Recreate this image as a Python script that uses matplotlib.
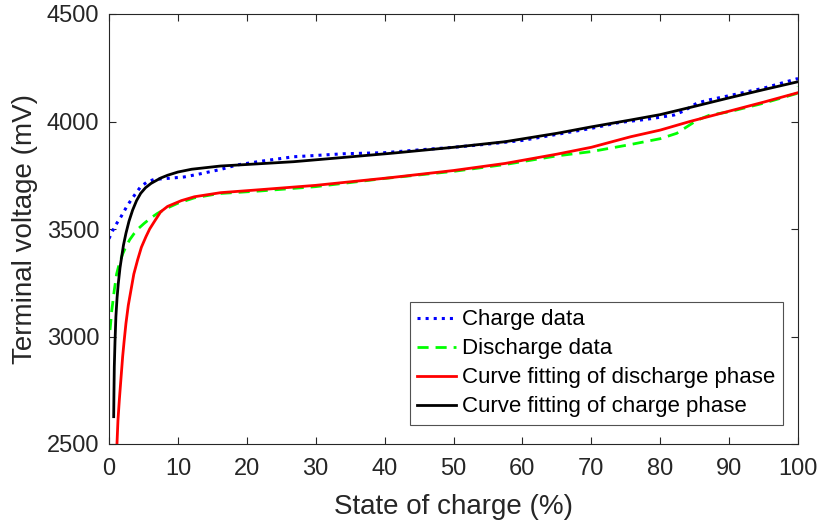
import matplotlib
matplotlib.use("Agg")
import matplotlib.pyplot as plt

plt.rcParams["font.family"] = ["Liberation Sans", "DejaVu Sans"]

# Charge data (blue dotted)
charge_soc = [0, 0.5, 1, 1.74, 2.5, 3.2, 4.6, 5.5, 6.57, 8, 10.9, 13, 16.2, 18.6, 22, 26.8,
              30, 34.1, 40, 45, 50, 55, 60, 65, 70, 74, 78, 82, 83.5, 85.3, 87, 90, 95, 100]
charge_mv = [3455, 3490, 3520, 3557, 3600, 3635, 3697, 3718, 3731, 3734, 3742, 3755, 3777,
             3798, 3815, 3836, 3842, 3850, 3855, 3868, 3880, 3895, 3912, 3940, 3968, 3995,
             4010, 4030, 4050, 4085, 4100, 4120, 4155, 4200]

# Discharge data (green dashed)
discharge_soc = [0.15, 0.4, 0.77, 1.1, 1.5, 2.0, 2.46, 3.0, 3.67, 4.3, 5.1, 6.1, 7.05, 8.5,
                 10, 12.4, 16, 22, 30, 40, 50, 57.5, 65, 70, 75.7, 80, 82.4, 85.3, 87.2,
                 90, 95, 99.8, 100, 100]
discharge_mv = [3030, 3120, 3216, 3290, 3340, 3385, 3418, 3450, 3480, 3503, 3526, 3552,
                3573, 3598, 3620, 3645, 3665, 3677, 3697, 3735, 3768, 3800, 3840, 3860,
                3893, 3920, 3945, 4005, 4030, 4045, 4085, 4130, 4140, 4165]

# Curve fitting of discharge phase (red)
fit_dis_soc = [1.16, 1.3, 1.5, 1.75, 1.98, 2.2, 2.46, 2.8, 3.19, 3.6, 4.15, 4.7, 5.36, 5.9,
               6.57, 7.5, 8.5, 10.5, 12.4, 16.2, 22, 30, 40.9, 50, 57.5, 65, 70, 75.7, 80,
               84.3, 90, 95, 100]
fit_dis_mv = [2503, 2610, 2705, 2810, 2906, 2980, 3061, 3145, 3216, 3290, 3356, 3415,
              3464, 3500, 3534, 3580, 3605, 3632, 3650, 3669, 3683, 3703, 3739, 3772,
              3805, 3848, 3880, 3929, 3960, 4000, 4048, 4090, 4134]

# Curve fitting of charge phase (black)
fit_ch_soc = [0.68, 0.72, 0.77, 0.87, 1.0, 1.17, 1.35, 1.6, 1.84, 2.1, 2.46, 2.9, 3.43,
              4.0, 4.6, 5.3, 6.1, 7.5, 8.5, 10, 12, 16.2, 20, 26.8, 33, 40.9, 50, 57.5,
              65, 70, 75.7, 80, 84.8, 90, 95, 100]
fit_ch_mv = [2627, 2740, 2860, 2975, 3092, 3180, 3247, 3320, 3371, 3425, 3480, 3536,
             3588, 3632, 3666, 3692, 3712, 3737, 3750, 3765, 3778, 3793, 3800, 3813,
             3830, 3852, 3880, 3906, 3945, 3975, 4007, 4032, 4069, 4110, 4148, 4185]

fig = plt.figure(figsize=(8.22, 5.24), dpi=100)
ax = fig.add_axes([109 / 822, 80 / 524, 689 / 822, 430 / 524])

ax.plot(charge_soc, charge_mv, color="#0000ff", linestyle=":", linewidth=2.2,
        label="Charge data")
ax.plot(discharge_soc, discharge_mv, color="#00ff00", linestyle="--", linewidth=2.0,
        dashes=(4, 2.5), label="Discharge data")
ax.plot(fit_dis_soc, fit_dis_mv, color="#ff0000", linewidth=2.0,
        label="Curve fitting of discharge phase")
ax.plot(fit_ch_soc, fit_ch_mv, color="#000000", linewidth=2.0,
        label="Curve fitting of charge phase")

ax.set_xlim(0, 100)
ax.set_ylim(2500, 4500)
ax.set_xticks(range(0, 101, 10))
ax.set_yticks(range(2500, 4501, 500))
ax.tick_params(direction="in", top=True, right=True, labelsize=17, length=5,
               colors="#262626")
ax.tick_params(axis="x", pad=10)
ax.tick_params(axis="y", pad=7)
for side in ax.spines.values():
    side.set_color("#262626")
    side.set_linewidth(0.8)

ax.set_xlabel("State of charge (%)", fontsize=20, color="#262626", labelpad=10)
ax.set_ylabel("Terminal voltage (mV)", fontsize=20, color="#262626", labelpad=6)

leg = ax.legend(loc="lower right", bbox_to_anchor=(0.978, 0.044), fontsize=16,
                frameon=True, fancybox=False, edgecolor="#262626",
                handlelength=1.75, handletextpad=0.25, borderpad=0.35,
                labelspacing=0.36, borderaxespad=0)
leg.get_frame().set_linewidth(0.8)

fig.savefig("out.png", dpi=100)
